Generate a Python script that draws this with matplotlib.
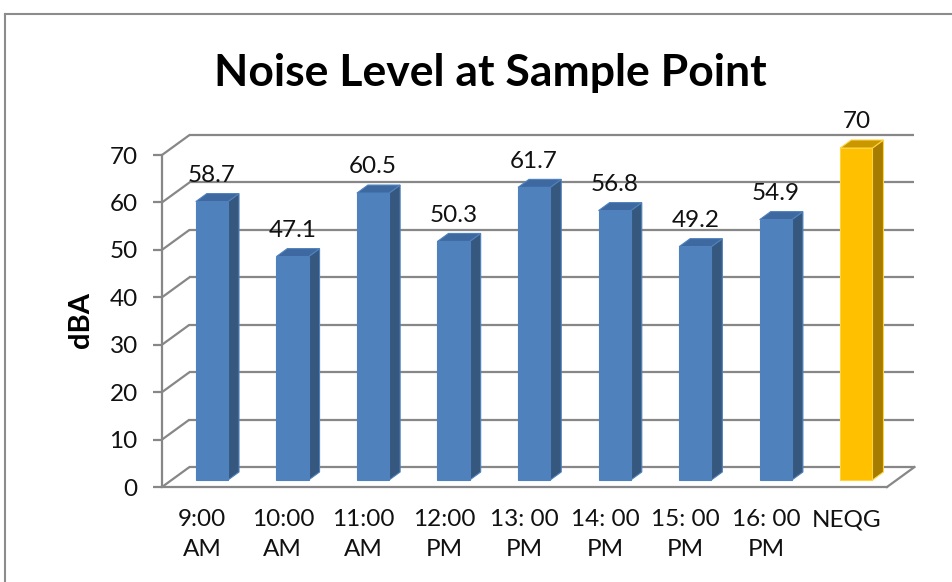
import matplotlib
matplotlib.use("Agg")
import matplotlib.pyplot as plt
from matplotlib.patches import Polygon
from matplotlib.lines import Line2D
import numpy as np

# Chart data
categories = ["9:00\nAM", "10:00\nAM", "11:00\nAM", "12:00\nPM", "13: 00\nPM",
              "14: 00\nPM", "15: 00\nPM", "16: 00\nPM", "NEQG"]
noise_dba = [58.7, 47.1, 60.5, 50.3, 61.7, 56.8, 49.2, 54.9, 70]
y_ticks = [0, 10, 20, 30, 40, 50, 60, 70]
title = "Noise Level at Sample Point"
y_label = "dBA"

plt.rcParams["font.family"] = ["Lato", "DejaVu Sans"]

W, H = 953, 582
fig = plt.figure(figsize=(W / 100, H / 100), dpi=100)

# Front plane of the pseudo-3D box
left_px, right_px, bottom_px, top_px = 162, 887, 487, 155
ax = fig.add_axes([left_px / W, (H - bottom_px) / H,
                   (right_px - left_px) / W, (bottom_px - top_px) / H])
n = len(categories)
ax.set_xlim(-0.5, n - 0.5)
ax.set_ylim(0, 70)

px_per_x = (right_px - left_px) / n
px_per_y = (bottom_px - top_px) / 70.0
depth_x = 27.5 / px_per_x      # full box depth, in data units
depth_y = 20.0 / px_per_y

grid_col = "#878787"
grid_lw = 1.6
label_size = 17.5

# back wall gridlines and left side-wall diagonals
for t in y_ticks:
    ax.plot([-0.5, -0.5 + depth_x], [t, t + depth_y], color=grid_col,
            lw=grid_lw, clip_on=False, zorder=1, solid_capstyle="butt")
    ax.plot([-0.5 + depth_x, n - 0.5 + depth_x], [t + depth_y, t + depth_y],
            color=grid_col, lw=grid_lw, clip_on=False, zorder=1,
            solid_capstyle="butt")
# right edge of the floor
ax.plot([n - 0.5, n - 0.5 + depth_x], [0, depth_y], color=grid_col,
        lw=grid_lw, clip_on=False, zorder=1)

# bars
x = np.arange(n)
bar_w = 0.40
f0, fd = 0.35, 0.40          # front position and thickness of the bars (depth fractions)
sx, sy = f0 * depth_x, f0 * depth_y
dxb, dyb = fd * depth_x, fd * depth_y

front_cols = ["#4F81BD"] * (n - 1) + ["#FFC000"]
side_cols = ["#36587F"] * (n - 1) + ["#A67C00"]
top_cols = ["#3E69A0"] * (n - 1) + ["#C99700"]
edge_cols = ["#4F81BD"] * (n - 1) + ["#FFD23F"]

bars = ax.bar(x + sx, noise_dba, width=bar_w, bottom=sy, color=front_cols,
              edgecolor=edge_cols, linewidth=0.8, zorder=3, clip_on=False)
for xi, v, sc, tc, ec in zip(x, noise_dba, side_cols, top_cols, edge_cols):
    xl = xi + sx - bar_w / 2
    xr = xi + sx + bar_w / 2
    top = v + sy
    side = Polygon([(xr, sy), (xr + dxb, sy + dyb), (xr + dxb, top + dyb), (xr, top)],
                   closed=True, facecolor=sc, edgecolor=ec, lw=0.8,
                   zorder=2.9, clip_on=False)
    lid = Polygon([(xl, top), (xr, top), (xr + dxb, top + dyb), (xl + dxb, top + dyb)],
                  closed=True, facecolor=tc, edgecolor=ec, lw=0.8,
                  zorder=2.9, clip_on=False)
    ax.add_patch(side)
    ax.add_patch(lid)
    ax.annotate(f"{v:g}", xy=(xi + sx, top + dyb), xytext=(0, 8.5),
                textcoords="offset points", ha="center", va="baseline",
                fontsize=label_size, color="#111111", zorder=5,
                annotation_clip=False)

# axes styling
for s in ("top", "right"):
    ax.spines[s].set_visible(False)
for s in ("left", "bottom"):
    ax.spines[s].set_color(grid_col)
    ax.spines[s].set_linewidth(grid_lw)
ax.set_yticks(y_ticks)
ax.tick_params(axis="y", length=6.5, width=grid_lw, color=grid_col, pad=11,
               labelsize=label_size, labelcolor="#111111")
ax.set_xticks(x, categories)
ax.tick_params(axis="x", length=0, pad=16, labelsize=label_size,
               labelcolor="#111111")
for lbl in ax.get_xticklabels():
    lbl.set_linespacing(1.5)
    lbl.set_va("top")
ax.patch.set_visible(False)

# titles
fig.text(490 / W, 1 - 86 / H, title, ha="center", va="baseline",
         fontsize=32, fontweight="bold", color="#000000")
fig.text(81 / W, 1 - 320 / H, y_label, rotation=90, ha="center", va="center",
         fontsize=21, fontweight="bold", color="#000000")

# chart-area border
border_col = "#8C8C8C"
fig.add_artist(Line2D([5 / W, 1.0], [1 - 14 / H, 1 - 14 / H],
                      transform=fig.transFigure, color=border_col, lw=1.5))
fig.add_artist(Line2D([5 / W, 5 / W], [1 - 14 / H, 0.0],
                      transform=fig.transFigure, color=border_col, lw=1.5))

fig.savefig("out.png", dpi=100, facecolor="white")
